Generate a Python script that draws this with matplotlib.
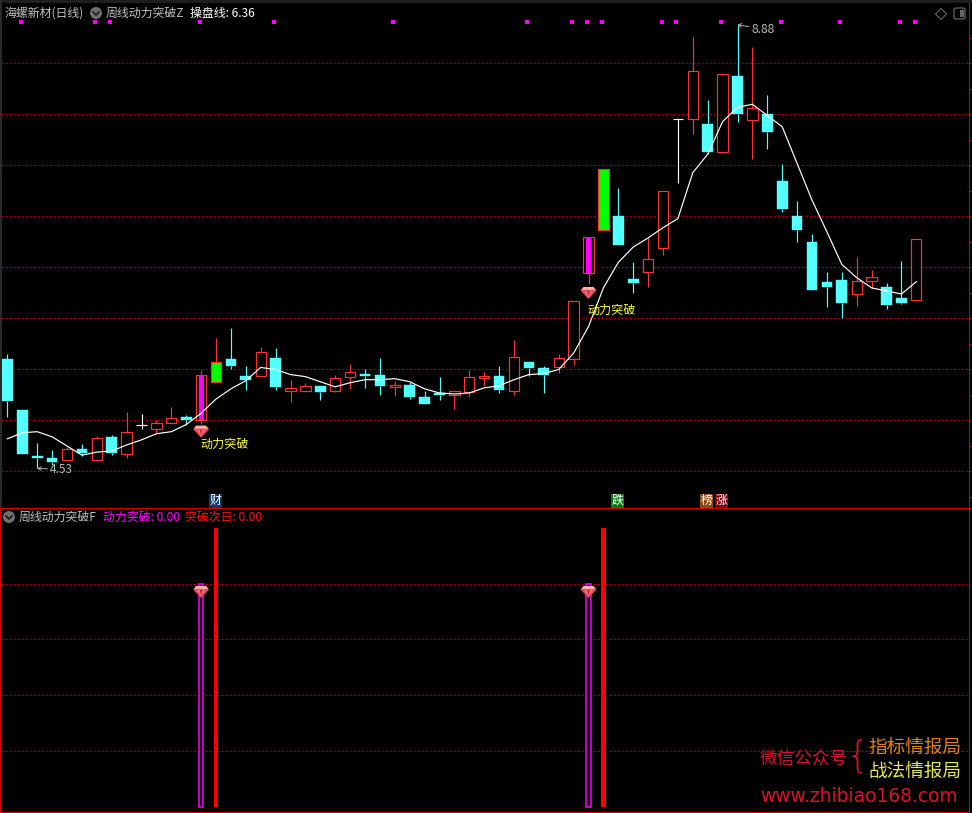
import numpy as np
import matplotlib
matplotlib.use("Agg")
import matplotlib.pyplot as plt
from matplotlib.lines import Line2D
from matplotlib.patches import Circle, Polygon, Rectangle, FancyBboxPatch
from matplotlib.transforms import Affine2D

plt.rcParams['font.family'] = ['Noto Sans CJK SC', 'DejaVu Sans']

# ---------- data ----------
opens = [5.60,5.10,4.65,4.63,4.61,4.72,4.61,4.84,4.67,4.96,4.92,4.98,5.03,5.00,5.38,5.60,5.44,5.44,5.61,5.29,5.29,5.34,5.29,5.43,5.46,5.45,5.33,5.35,5.23,5.27,5.25,5.28,5.42,5.44,5.29,5.57,5.51,5.52,5.60,6.45,6.87,7.00,6.39,6.46,6.69,7.96,7.96,7.91,7.63,8.38,7.95,8.00,7.35,7.00,6.75,6.36,6.38,6.24,6.37,6.31,6.20,6.18]
closes = [5.19,4.67,4.63,4.59,4.72,4.68,4.83,4.68,4.89,4.96,4.98,5.02,5.00,5.45,5.57,5.53,5.40,5.67,5.33,5.32,5.34,5.28,5.42,5.48,5.44,5.34,5.35,5.23,5.16,5.25,5.29,5.43,5.44,5.30,5.62,5.51,5.45,5.61,6.17,6.80,7.47,6.72,6.35,6.58,7.25,7.96,8.43,7.63,8.40,8.00,8.06,7.83,7.07,6.87,6.28,6.31,6.15,6.37,6.41,6.13,6.15,6.78]
highs = [5.65,5.10,4.78,4.71,4.74,4.77,4.85,4.86,5.08,5.06,5.00,5.13,5.05,5.49,5.81,5.91,5.53,5.72,5.71,5.40,5.37,5.34,5.45,5.55,5.50,5.61,5.39,5.38,5.29,5.43,5.29,5.49,5.48,5.53,5.79,5.57,5.53,5.65,6.17,6.80,7.47,7.28,6.55,6.79,7.25,7.96,8.76,8.14,8.40,8.88,8.66,8.19,7.51,7.15,6.83,6.46,6.46,6.60,6.48,6.35,6.56,6.78]
lows = [5.03,4.67,4.53,4.56,4.61,4.65,4.60,4.66,4.63,4.92,4.88,4.98,4.96,4.97,5.38,5.50,5.30,5.44,5.30,5.18,5.28,5.20,5.28,5.31,5.32,5.25,5.24,5.21,5.16,5.20,5.11,5.23,5.34,5.27,5.25,5.44,5.27,5.47,5.54,6.34,6.87,6.72,6.25,6.31,6.62,7.33,7.81,7.61,7.63,7.93,7.56,7.66,7.04,6.75,6.28,6.11,6.00,6.12,6.30,6.09,6.14,6.18]
ma_line = [4.82,4.88,4.89,4.84,4.75,4.66,4.69,4.70,4.76,4.81,4.87,4.89,4.96,5.07,5.21,5.31,5.39,5.52,5.50,5.45,5.43,5.38,5.33,5.37,5.40,5.40,5.41,5.38,5.31,5.27,5.26,5.27,5.32,5.34,5.40,5.45,5.46,5.50,5.66,5.92,6.30,6.55,6.70,6.79,6.89,6.98,7.43,7.61,7.93,8.07,8.10,7.99,7.88,7.52,7.16,6.85,6.53,6.40,6.30,6.27,6.24,6.36]
top_signal_idx = [1,6,7,13,18,26,35,38,39,40,44,45,48,52,56,60,61]
breakout_idx = [13,39]
next_day_idx = [14,40]
gem_prices = [4.89,6.25]
label_prices = [4.77,6.08]
breakout_values = [0.8,0.8]
next_day_values = [1.0,1.0]
gem_lower_value = 0.77
lower_grid = [0.2,0.4,0.6,0.8]
price_grid = [4.5,5.0,5.5,6.0,6.5,7.0,7.5,8.0,8.5]
tag_labels = ['财','跌','榜','涨']
tag_left_px = [209,611,700,715]
tag_colors = ['#0b3a68','#0a7d14','#8a4c10','#7d0610']

# ---------- layout ----------
W, H = 972, 813
L, R = 2, 969
fig = plt.figure(figsize=(W/100, H/100), dpi=100, facecolor='black')
PX = Affine2D().scale(1, -1).translate(0, H)   # pixel coords, y downwards

def make_ax(top, bottom):
    a = fig.add_axes([L/W, 1-bottom/H, (R-L)/W, (bottom-top)/H], facecolor='black')
    for s in a.spines.values():
        s.set_visible(False)
    a.set_xlim((L-7.4)/14.9, (R-7.4)/14.9)
    return a

ax = make_ax(4, 508)
ax.set_ylim(4.142, 9.083)
ax2 = make_ax(509, 812)
ax2.set_ylim(-0.0197, 1.068)

RED = '#ff3232'
CYAN = '#54ffff'
GRID = '#d00010'
PXL = 0.72
LW = 0.85
dots = (0, (0.72, 2.16))

x = np.arange(len(opens))
o, c, h, l = map(np.array, (opens, closes, highs, lows))

# grid
ax.hlines(price_grid, *ax.get_xlim(), colors=GRID, lw=1.0, linestyles=dots, antialiased=False, zorder=1)
ax2.hlines(lower_grid, *ax2.get_xlim(), colors=GRID, lw=1.0, linestyles=dots, antialiased=False, zorder=1)

# right-hand ticks
ax.yaxis.tick_right()
ax.set_yticks(np.arange(4.25, 9.0, 0.25))
ax.set_yticklabels([])
ax.tick_params(axis='y', length=2.2, width=PXL, color='#c00000', pad=0)
ax.set_xticks([])
ax2.set_xticks([])
ax2.set_yticks([])

# candles
for i in x:
    top, bot = max(o[i], c[i]), min(o[i], c[i])
    if o[i] == c[i]:
        col = '#ffffff'
    elif c[i] > o[i]:
        col = RED
    else:
        col = CYAN
    ax.vlines(i, top, h[i], colors=col, lw=LW, zorder=2)
    ax.vlines(i, l[i], bot, colors=col, lw=LW, zorder=2)
    if o[i] == c[i]:
        ax.hlines(o[i], i-0.36, i+0.36, colors=col, lw=LW, zorder=2)
    elif c[i] > o[i]:
        face = '#00ff00' if i in next_day_idx else 'black'
        ax.bar(i, top-bot, 0.69, bot, facecolor=face, edgecolor=col, lw=LW, zorder=3)
        if i in breakout_idx:
            ax.bar(i, top-bot, 0.34, bot, facecolor='#ff00ff', edgecolor='none', zorder=4)
    else:
        ax.bar(i, top-bot, 0.72, bot, facecolor=col, edgecolor=col, lw=0.3, zorder=3)

# line
ax.plot(x, ma_line, color='white', lw=0.85, zorder=5)

# top signal dots
ax.plot(np.array(top_signal_idx)-0.1, [0.9643]*len(top_signal_idx), ls='none', marker='s',
        ms=2.5, mfc='#ff00ff', mec='#ff00ff', mew=0, transform=ax.get_xaxis_transform(), zorder=6)

# gem glyph
def gem(a, xv, yv):
    dx, dy = a.transData.transform((xv, yv))
    t = Affine2D().translate(dx, dy)
    layers = [
        ([(-8, 2.5), (-5, 6), (5, 6), (8, 2.5), (0, -6)], '#e8485a'),
        ([(-5, 6), (5, 6), (7, 3), (-7, 3)], '#ffb0a8'),
        ([(-4.5, 2), (4.5, 2), (0, -4.5)], '#ff6a78'),
        ([(-1.2, 2), (1.2, 2), (0, -4)], '#c82030'),
    ]
    for pts, col in layers:
        a.add_patch(Polygon(pts, closed=True, facecolor=col, edgecolor='none', transform=t,
                            zorder=8, clip_on=False))

for i, p, lp in zip(breakout_idx, gem_prices, label_prices):
    gem(ax, i, p)
    ax.text(i-0.05, lp, '动力突破', color='#ffff33', fontsize=8.7, va='center', ha='left', zorder=8)

# high / low labels
imax, imin = int(np.argmax(h)), int(np.argmin(l))
arrow = dict(arrowstyle='->,head_length=0.25,head_width=0.15', color='#b0b0b0', lw=0.7, shrinkA=0, shrinkB=0)
ax.annotate(f'{h[imax]:.2f}', xy=(imax, h[imax]), xytext=(14*PXL, -4.5*PXL), textcoords='offset points',
            color='#b8b8b8', fontsize=8.6, va='center', ha='left', arrowprops=arrow, zorder=7)
ax.annotate(f'{l[imin]:.2f}', xy=(imin, l[imin]), xytext=(13*PXL, -1*PXL), textcoords='offset points',
            color='#b8b8b8', fontsize=8.6, va='center', ha='left', arrowprops=arrow, zorder=7)

# lower panel
ax2.bar(breakout_idx, breakout_values, 0.28, 0, facecolor='black', edgecolor='#ff00ff', lw=1.1, zorder=3)
ax2.bar(next_day_idx, next_day_values, 0.32, 0, facecolor='#ff0000', edgecolor='none', zorder=3)
for i in breakout_idx:
    gem(ax2, i, gem_lower_value)

# tags
for s, left, col in zip(tag_labels, tag_left_px, tag_colors):
    fig.add_artist(Rectangle((left, 494), 13, 13.5, transform=PX, facecolor=col, edgecolor='none'))
    fig.text(left+6.5, 500.5, s, transform=PX, color='white', fontsize=8.6, ha='center', va='center')

# header
def hdr(px, py, s, col):
    fig.text(px, py, s, transform=PX, color=col, fontsize=8.6, ha='left', va='center')

def chevron(cx, cy):
    fig.add_artist(Circle((cx, cy), 6, transform=PX, facecolor='#707070', edgecolor='none'))
    fig.add_artist(Line2D([cx-3, cx, cx+3], [cy-1, cy+2, cy-1], transform=PX, color='#1c1c1c', lw=1.2))

hdr(4, 13, '海螺新材(日线)', '#c0c0c0')
chevron(96, 13)
hdr(106, 13, '周线动力突破Z', '#c0c0c0')
hdr(190, 13, f'操盘线: {ma_line[-1]:.2f}', '#ffffff')
chevron(9, 517)
hdr(19, 517, '周线动力突破F', '#c0c0c0')
hdr(103, 517, f'动力突破: {0:.2f}', '#ff00ff')
hdr(185, 517, f'突破次日: {0:.2f}', '#ff1010')

# top-right icons
fig.add_artist(Polygon([(941, 8.5), (946.5, 14), (941, 19.5), (935.5, 14)], closed=True, transform=PX,
                       facecolor='none', edgecolor='#666666', lw=0.8))
fig.add_artist(FancyBboxPatch((955, 9), 9, 9, boxstyle='round,pad=1,rounding_size=2', transform=PX,
                              facecolor='none', edgecolor='#666666', lw=0.9))
fig.add_artist(Rectangle((960, 10), 4, 7, transform=PX, facecolor='#666666', edgecolor='none'))

# frame (exact pixel rows / columns)
def frame(px, py, pw, ph, col):
    fig.add_artist(Rectangle((px, py), pw, ph, transform=PX, facecolor=col, edgecolor='none',
                             antialiased=False, zorder=10))

frame(0, 0, W, 3, '#1e1e1e')
frame(0, 0, 2, 508, '#2a2a2a')
frame(0, 508, W, 1, '#d80000')
frame(969, 3, 1, 810, '#d80000')
frame(0, 812, 970, 1, '#d80000')
frame(0, 508, 1, 305, '#d80000')

# watermark
fig.text(760, 760, '微信公众号', transform=PX, color='#d8102a', fontsize=12.7, ha='left', va='center')
fig.text(858, 756, '{', transform=PX, color='#d8102a', fontsize=27, ha='center', va='center',
         family='DejaVu Sans', fontweight='light')
fig.text(868, 748, '指标情报局', transform=PX, color='#e08214', fontsize=13.4, ha='left', va='center')
fig.text(868, 772, '战法情报局', transform=PX, color='#e6e65c', fontsize=13.4, ha='left', va='center')
fig.text(760, 796, 'www.zhibiao168.com', transform=PX, color='#e0102a', fontsize=13.4, ha='left', va='center',
         family='DejaVu Sans')

fig.savefig('out.png', dpi=100, facecolor='black')
